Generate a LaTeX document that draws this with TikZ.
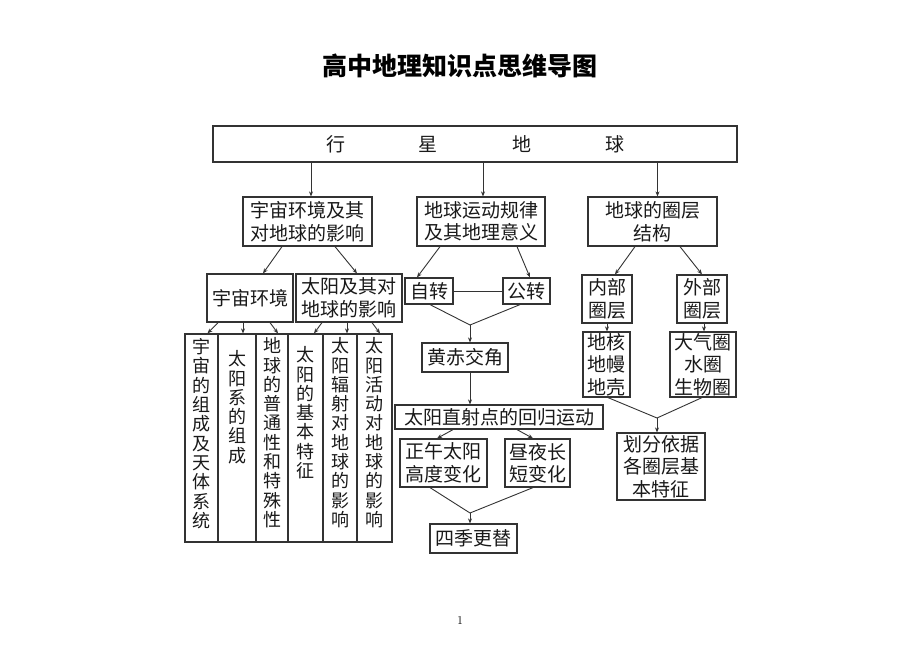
\documentclass[tikz,border=0pt]{standalone}
\usepackage{fontspec}
\newfontfamily\cjk{Noto Sans CJK SC}
\usetikzlibrary{arrows.meta}
\tikzset{
  box/.style={draw=black!80, line width=1.2pt, inner sep=0pt, align=center,
    font=\cjk\fontsize{19}{22.5}\selectfont, text=black!90},
  colbox/.style={draw=black!80, line width=1.2pt, inner sep=0pt},
  coltext/.style={align=center, inner sep=0pt, anchor=north,
    font=\cjk\fontsize{18}{19.3}\selectfont, text=black!90},
  arr/.style={draw=black!80, line width=0.9pt, -{Stealth[length=5pt,width=4pt]}},
  ln/.style={draw=black!80, line width=0.9pt},
}
\begin{document}
\begin{tikzpicture}[x=1pt,y=-1pt]
\fill[white] (0,0) rectangle (920,651);
\useasboundingbox (0,0) rectangle (920,651);

% title
\node[font=\cjk\bfseries\fontsize{25}{28}\selectfont, inner sep=0pt] (title) at (460,66) {高中地理知识点思维导图};
\node[font=\fontsize{12}{14}\selectfont, inner sep=0pt] (page) at (460,620) {1};

% top box
\node[box, minimum width=524pt, minimum height=36pt] (top) at (475,144)
  {行\hspace{73pt}星\hspace{75pt}地\hspace{74pt}球};

% level 1
\node[box, minimum width=129pt, minimum height=49pt] (b1) at (307.5,221.5) {宇宙环境及其\\对地球的影响};
\node[box, minimum width=128pt, minimum height=49pt] (b2) at (481,221.5) {地球运动规律\\及其地理意义};
\node[box, minimum width=129pt, minimum height=49pt] (b3) at (652.5,221.5) {地球的圈层\\结构};

\draw[arr] ([xshift=3.5pt]b1.north |- top.south) -- ([xshift=3.5pt]b1.north);
\draw[arr] ([xshift=2pt]b2.north |- top.south) -- ([xshift=2pt]b2.north);
\draw[arr] ([xshift=5pt]b3.north |- top.south) -- ([xshift=5pt]b3.north);

% left branch
\node[box, minimum width=86pt, minimum height=48pt] (yz) at (250,298) {宇宙环境};
\node[box, minimum width=106pt, minimum height=48pt] (ty) at (349,298) {太阳及其对\\地球的影响};
\draw[arr] ([xshift=-25.5pt]b1.south) -- ([xshift=13pt]yz.north);
\draw[arr] ([xshift=27.5pt]b1.south) -- ([xshift=8pt]ty.north);

\node[colbox, minimum width=33pt, minimum height=208pt] (c1) at (201.5,438) {};
\node[colbox, minimum width=38pt, minimum height=208pt] (c2) at (237,438) {};
\node[colbox, minimum width=32pt, minimum height=208pt] (c3) at (272,438) {};
\node[colbox, minimum width=35pt, minimum height=208pt] (c4) at (305.5,438) {};
\node[colbox, minimum width=34pt, minimum height=208pt] (c5) at (340,438) {};
\node[colbox, minimum width=35pt, minimum height=208pt] (c6) at (374.5,438) {};

\node[coltext] (t1) at ([yshift=-5pt]c1.north) {宇\\宙\\的\\组\\成\\及\\天\\体\\系\\统};
\node[coltext] (t2) at ([yshift=-17pt]c2.north) {太\\阳\\系\\的\\组\\成};
\node[coltext] (t3) at ([yshift=-4pt]c3.north) {地\\球\\的\\普\\通\\性\\和\\特\\殊\\性};
\node[coltext] (t4) at ([yshift=-13pt]c4.north) {太\\阳\\的\\基\\本\\特\\征};
\node[coltext] (t5) at ([yshift=-4pt]c5.north) {太\\阳\\辐\\射\\对\\地\\球\\的\\影\\响};
\node[coltext] (t6) at ([yshift=-4pt]c6.north) {太\\阳\\活\\动\\对\\地\\球\\的\\影\\响};

\draw[arr] ([xshift=-32pt]yz.south) -- ([xshift=6pt]c1.north);
\draw[arr] ([xshift=-7pt]yz.south) -- ([xshift=6pt]c2.north);
\draw[arr] ([xshift=20pt]yz.south) -- ([xshift=6pt]c3.north);
\draw[arr] ([xshift=-27pt]ty.south) -- ([xshift=8.5pt]c4.north);
\draw[arr] ([xshift=-2pt]ty.south) -- ([xshift=7pt]c5.north);
\draw[arr] ([xshift=23pt]ty.south) -- ([xshift=5.5pt]c6.north);

% middle branch
\node[box, minimum width=48pt, minimum height=26pt] (zz) at (429,291) {自转};
\node[box, minimum width=47pt, minimum height=26pt] (gz) at (526.5,291) {公转};
\draw[ln] (zz.east) -- (gz.west);
\draw[arr] ([xshift=-41pt]b2.south) -- ([xshift=-12pt]zz.north);
\draw[arr] ([xshift=36pt]b2.south) -- ([xshift=3.5pt]gz.north);

\coordinate (m1) at (470,325);
\node[box, minimum width=86pt, minimum height=29pt] (hc) at (465,357.5) {黄赤交角};
\draw[ln] ([xshift=1pt]zz.south) -- (m1);
\draw[ln] ([xshift=-6.5pt]gz.south) -- (m1);
\draw[arr] (m1) -- (m1 |- hc.north);

\node[box, minimum width=208pt, minimum height=24pt] (zs) at (499,417) {太阳直射点的回归运动};
\draw[arr] (m1 |- hc.south) -- (m1 |- zs.north);

\node[box, minimum width=87pt, minimum height=48pt] (zw) at (443.5,463) {正午太阳\\高度变化};
\node[box, minimum width=65pt, minimum height=48pt] (zy) at (537.5,463) {昼夜长\\短变化};
\draw[arr] ([xshift=-46pt]zs.south) -- ([xshift=-6.5pt]zw.north);
\draw[arr] ([xshift=18pt]zs.south) -- ([xshift=-4.5pt]zy.north);

\coordinate (m2) at (470,513);
\node[box, minimum width=87pt, minimum height=29pt] (sj) at (473.5,538.5) {四季更替};
\draw[ln] ([xshift=-13.5pt]zw.south) -- (m2);
\draw[ln] ([xshift=-4.5pt]zy.south) -- (m2);
\draw[arr] (m2) -- (m2 |- sj.north);

% right branch
\node[box, minimum width=50pt, minimum height=48pt] (nb) at (607,299) {内部\\圈层};
\node[box, minimum width=50pt, minimum height=48pt] (wb) at (702,299) {外部\\圈层};
\draw[arr] ([xshift=-17.5pt]b3.south) -- ([xshift=8pt]nb.north);
\draw[arr] ([xshift=27.5pt]b3.south) -- (wb.north);

\node[box, minimum width=47pt, minimum height=65pt] (qc) at (606.5,364.5) {地核\\地幔\\地壳};
\node[box, minimum width=66pt, minimum height=65pt] (wc) at (703,364.5) {大气圈\\水圈\\生物圈};
\draw[arr] (nb.south) -- (nb.south |- qc.north);
\draw[arr] ([xshift=2pt]wb.south) -- ([xshift=2pt]wb.south |- wc.north);

\coordinate (m3) at (657,418);
\node[box, minimum width=88pt, minimum height=67pt] (hf) at (661,466.5) {划分依据\\各圈层基\\本特征};
\draw[ln] ([xshift=1.5pt]qc.south) -- (m3);
\draw[ln] ([xshift=-1pt]wc.south) -- (m3);
\draw[arr] (m3) -- (m3 |- hf.north);
\end{tikzpicture}
\end{document}
